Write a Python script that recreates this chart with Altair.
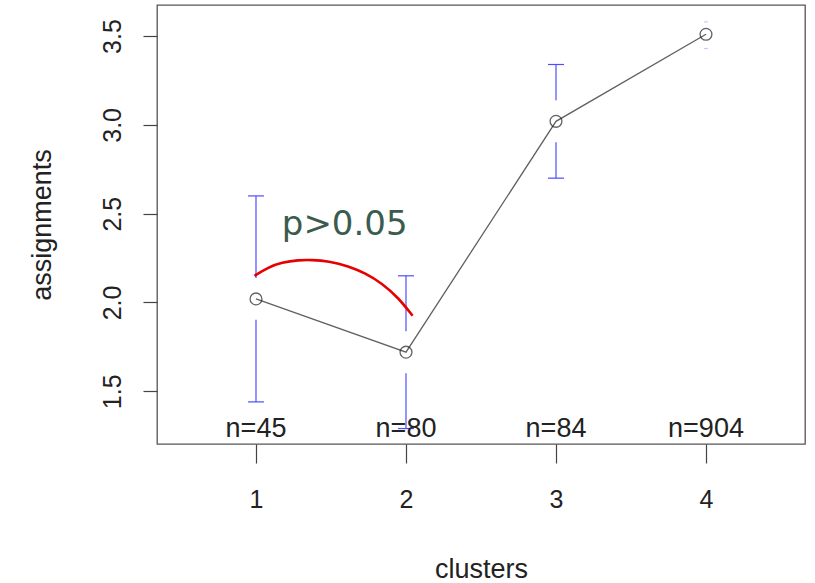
import altair as alt
import pandas as pd

# ---- data ----
clusters = [1, 2, 3, 4]
means = [2.02, 1.72, 3.02, 3.51]
upper = [2.60, 2.15, 3.34, 3.58]
lower = [1.44, 1.29, 2.70, 3.43]
n_labels = ["n=45", "n=80", "n=84", "n=904"]

# annotation arc (red), in data units
arc_x = [0.990, 1.083, 1.172, 1.284, 1.372, 1.484, 1.617, 1.728, 1.839, 1.951, 2.044]
arc_y = [2.150, 2.199, 2.225, 2.239, 2.240, 2.233, 2.205, 2.165, 2.109, 2.025, 1.925]
ann_text = ["p>0.05"]
ann_x = [1.172]
ann_y = [2.381]

GAP = 0.118  # gap around the point, like plotCI
X_DOM = [0.34, 4.66]
Y_DOM = [1.203, 3.675]

rows = []
for c, m, u, l, n in zip(clusters, means, upper, lower, n_labels):
    rows.append(dict(cluster=c, mean=m, upper=u, lower=l, n=n,
                     up_start=m + GAP, lo_end=m - GAP,
                     draw=(u > m + GAP),
                     capsize=16 if u > m + GAP else 4,
                     capop=1.0 if u > m + GAP else 0.3))
df = pd.DataFrame(rows)
seg_df = df[df["draw"]]
arc_df = pd.DataFrame({"x": arc_x, "y": arc_y})
ann_df = pd.DataFrame({"x": ann_x, "y": ann_y, "t": ann_text})
lab_df = pd.DataFrame({"cluster": clusters, "n": n_labels, "ybot": [Y_DOM[0]] * 4})

xs = alt.Scale(domain=X_DOM, nice=False, zero=False)
ys = alt.Scale(domain=Y_DOM, nice=False, zero=False)
xax = alt.Axis(values=clusters, format="d", title="clusters")
yax = alt.Axis(values=[1.5, 2.0, 2.5, 3.0, 3.5], format=".1f", title="assignments",
               labelAngle=270)

BLUE = "#4d4dff"

X = alt.X("cluster:Q", scale=xs, axis=xax)

seg_up = alt.Chart(seg_df).mark_rule(color=BLUE, strokeWidth=1.2).encode(
    x=X, y=alt.Y("up_start:Q", scale=ys, axis=yax), y2="upper:Q")
seg_lo = alt.Chart(seg_df).mark_rule(color=BLUE, strokeWidth=1.2).encode(
    x=X, y=alt.Y("lower:Q", scale=ys), y2="lo_end:Q")
cap_up = alt.Chart(df).mark_tick(color=BLUE, orient="horizontal", thickness=1.2).encode(
    x=X, y=alt.Y("upper:Q", scale=ys),
    size=alt.Size("capsize:Q", scale=None, legend=None),
    opacity=alt.Opacity("capop:Q", scale=None, legend=None))
cap_lo = alt.Chart(df).mark_tick(color=BLUE, orient="horizontal", thickness=1.2).encode(
    x=X, y=alt.Y("lower:Q", scale=ys),
    size=alt.Size("capsize:Q", scale=None, legend=None),
    opacity=alt.Opacity("capop:Q", scale=None, legend=None))

line = alt.Chart(df).mark_line(color="#606060", strokeWidth=1.3).encode(
    x=X, y=alt.Y("mean:Q", scale=ys))
pts = alt.Chart(df).mark_point(shape="circle", size=140, filled=False,
                               color="#222222", strokeWidth=1.3).encode(
    x=X, y=alt.Y("mean:Q", scale=ys))

nlab = alt.Chart(lab_df).mark_text(font="Liberation Sans", fontSize=27, color="#222222",
                                   baseline="bottom", align="center", dy=-1).encode(
    x=X, y=alt.Y("ybot:Q", scale=ys), text="n:N")

arc = alt.Chart(arc_df).mark_line(color="#e60000", strokeWidth=2.6,
                                  interpolate="basis").encode(
    x=alt.X("x:Q", scale=xs), y=alt.Y("y:Q", scale=ys))
ann = alt.Chart(ann_df).mark_text(font="DejaVu Sans", fontSize=34, color="#3b5b4f",
                                  align="left", baseline="alphabetic").encode(
    x=alt.X("x:Q", scale=xs), y=alt.Y("y:Q", scale=ys), text="t:N")

chart = alt.layer(seg_up, seg_lo, cap_up, cap_lo, line, pts, nlab, arc, ann).properties(
    width=648, height=439,
    padding={"left": 157, "top": 5, "right": 10, "bottom": 139},
    autosize=alt.AutoSizeParams(type="none"),
    background="white",
).configure_view(
    stroke="#555555", strokeWidth=1.3
).configure_axis(
    domain=False, grid=False, tickColor="#444444", tickWidth=1.2,
    labelFont="Liberation Sans", labelFontSize=25, labelColor="#222222",
    titleFont="Liberation Sans", titleFontSize=27, titleFontWeight="normal",
    titleColor="#222222"
).configure_axisX(
    tickSize=19, labelPadding=24, titlePadding=44
).configure_axisY(
    tickSize=14, labelPadding=18, titlePadding=44
)

chart.save("out.html", embed_options={"renderer": "svg", "actions": False})
